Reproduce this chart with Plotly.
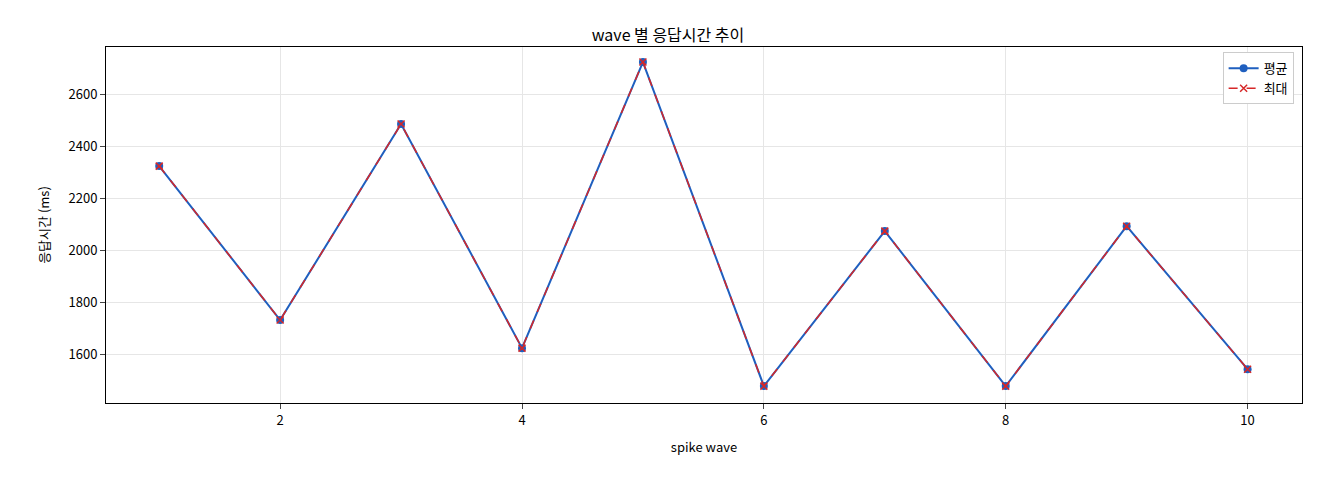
import plotly.graph_objects as go

waves = [1, 2, 3, 4, 5, 6, 7, 8, 9, 10]
avg_ms = [2323, 1731, 2485, 1623, 2723, 1477, 2073, 1477, 2092, 1542]
max_ms = [2323, 1731, 2485, 1623, 2723, 1477, 2073, 1477, 2092, 1542]

fig = go.Figure()
fig.add_trace(go.Scatter(
    x=waves, y=avg_ms, mode='lines+markers', name='평균',
    line=dict(color='#1f5fbf', width=2),
    marker=dict(size=8, color='#1f5fbf')
))
fig.add_trace(go.Scatter(
    x=waves, y=max_ms, mode='lines+markers', name='최대',
    line=dict(color='#d62728', width=1.5, dash='dash'),
    marker=dict(size=7, symbol='x-thin', line=dict(width=1.5, color='#d62728'), color='#d62728')
))

fig.update_layout(
    width=1320, height=480,
    margin=dict(l=98, r=26, t=39, b=85),
    title=dict(text='wave 별 응답시간 추이', x=0.5, xanchor='center', y=0.955, font=dict(size=16, color='black')),
    font=dict(family='Noto Sans CJK KR, Noto Sans', size=13, color='black'),
    plot_bgcolor='white', paper_bgcolor='white',
    xaxis=dict(title=dict(text='spike wave', font=dict(size=13)), range=[0.56, 10.45], tickvals=[2, 4, 6, 8, 10],
               showgrid=True, gridcolor='#e6e6e6', showline=True, mirror=True,
               linecolor='black', ticks='outside', zeroline=False),
    yaxis=dict(title=dict(text='응답시간 (ms)', font=dict(size=13)), range=[1412, 2781],
               tickvals=[1600, 1800, 2000, 2200, 2400, 2600],
               showgrid=True, gridcolor='#e6e6e6', showline=True, mirror=True,
               linecolor='black', ticks='outside', zeroline=False),
    legend=dict(x=0.993, y=0.985, xanchor='right', yanchor='top',
                bordercolor='#cccccc', borderwidth=1, bgcolor='white'),
)

fig.write_html("out.html")
